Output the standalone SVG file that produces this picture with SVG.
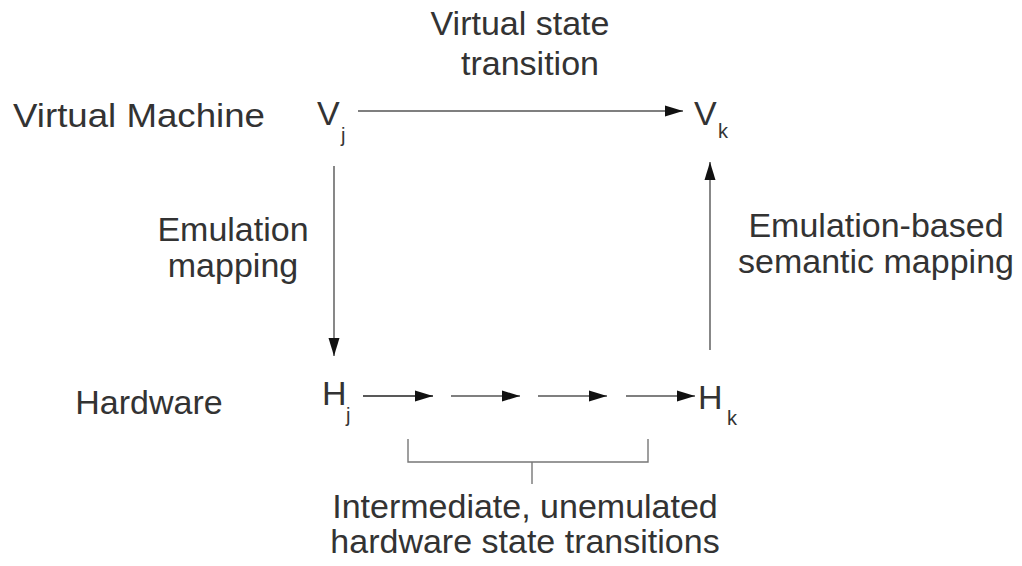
<svg xmlns="http://www.w3.org/2000/svg" width="1022" height="566" viewBox="0 0 1022 566">
  <style>
    .lbl { font-family: "Liberation Sans", Arial, sans-serif; font-size: 34px; fill: #333; }
    .mid { text-anchor: middle; }
    .sub { font-family: "Liberation Sans", Arial, sans-serif; font-size: 20px; fill: #333; }
    .edge { stroke: #555; stroke-width: 1.4; fill: none; }
    .dark { stroke: #222; }
    .brace { stroke: #777; stroke-width: 1.4; fill: none; }
  </style>
  <defs>
    <marker id="arrow" markerUnits="userSpaceOnUse" markerWidth="18" markerHeight="12" refX="18" refY="6" orient="auto">
      <path d="M0,0.5 L18,6 L0,11.5 z" fill="#111"/>
    </marker>
  </defs>
  <rect width="1022" height="566" fill="#fff"/>

  <!-- row labels -->
  <text class="lbl" x="13" y="127" font-size="38" textLength="252" lengthAdjust="spacingAndGlyphs">Virtual Machine</text>
  <text class="lbl mid" x="149" y="414" font-size="35.5">Hardware</text>

  <!-- edge labels -->
  <g id="label-virtual-transition">
    <text class="lbl mid" x="520" y="35" font-size="33">Virtual state</text>
    <text class="lbl mid" x="530" y="75" font-size="33">transition</text>
  </g>
  <g id="label-emulation-mapping">
    <text class="lbl mid" x="233" y="241">Emulation</text>
    <text class="lbl mid" x="233" y="277">mapping</text>
  </g>
  <g id="label-semantic-mapping">
    <text class="lbl mid" x="876" y="237">Emulation-based</text>
    <text class="lbl mid" x="876" y="273">semantic mapping</text>
  </g>
  <g id="label-intermediate">
    <text class="lbl mid" x="525" y="518">Intermediate, unemulated</text>
    <text class="lbl mid" x="525" y="553">hardware state transitions</text>
  </g>

  <!-- state nodes -->
  <g id="node-vj">
    <text class="lbl" x="317" y="125">V</text>
    <text class="sub" x="341" y="142">j</text>
  </g>
  <g id="node-vk">
    <text class="lbl" x="694" y="125">V</text>
    <text class="sub" x="718" y="138">k</text>
  </g>
  <g id="node-hj">
    <text class="lbl" x="322" y="405">H</text>
    <text class="sub" x="346" y="422">j</text>
  </g>
  <g id="node-hk">
    <text class="lbl" x="698" y="409">H</text>
    <text class="sub" x="727" y="425">k</text>
  </g>

  <!-- connectors -->
  <g id="connectors">
    <line class="edge" x1="358" y1="111" x2="683" y2="111" marker-end="url(#arrow)"/>
    <line class="edge" x1="334" y1="166" x2="334" y2="356" marker-end="url(#arrow)"/>
    <line class="edge" x1="710" y1="350" x2="710" y2="162" marker-end="url(#arrow)"/>
    <line class="edge dark" x1="363" y1="396" x2="433" y2="396" marker-end="url(#arrow)"/>
    <line class="edge" x1="451" y1="396" x2="520" y2="396" marker-end="url(#arrow)"/>
    <line class="edge" x1="538" y1="396" x2="607" y2="396" marker-end="url(#arrow)"/>
    <line class="edge" x1="626" y1="396" x2="695" y2="396" marker-end="url(#arrow)"/>
    <!-- bracket grouping the intermediate steps -->
    <path class="brace" d="M408,439 V462 H648 V439 M532,462 V484"/>
  </g>
</svg>
